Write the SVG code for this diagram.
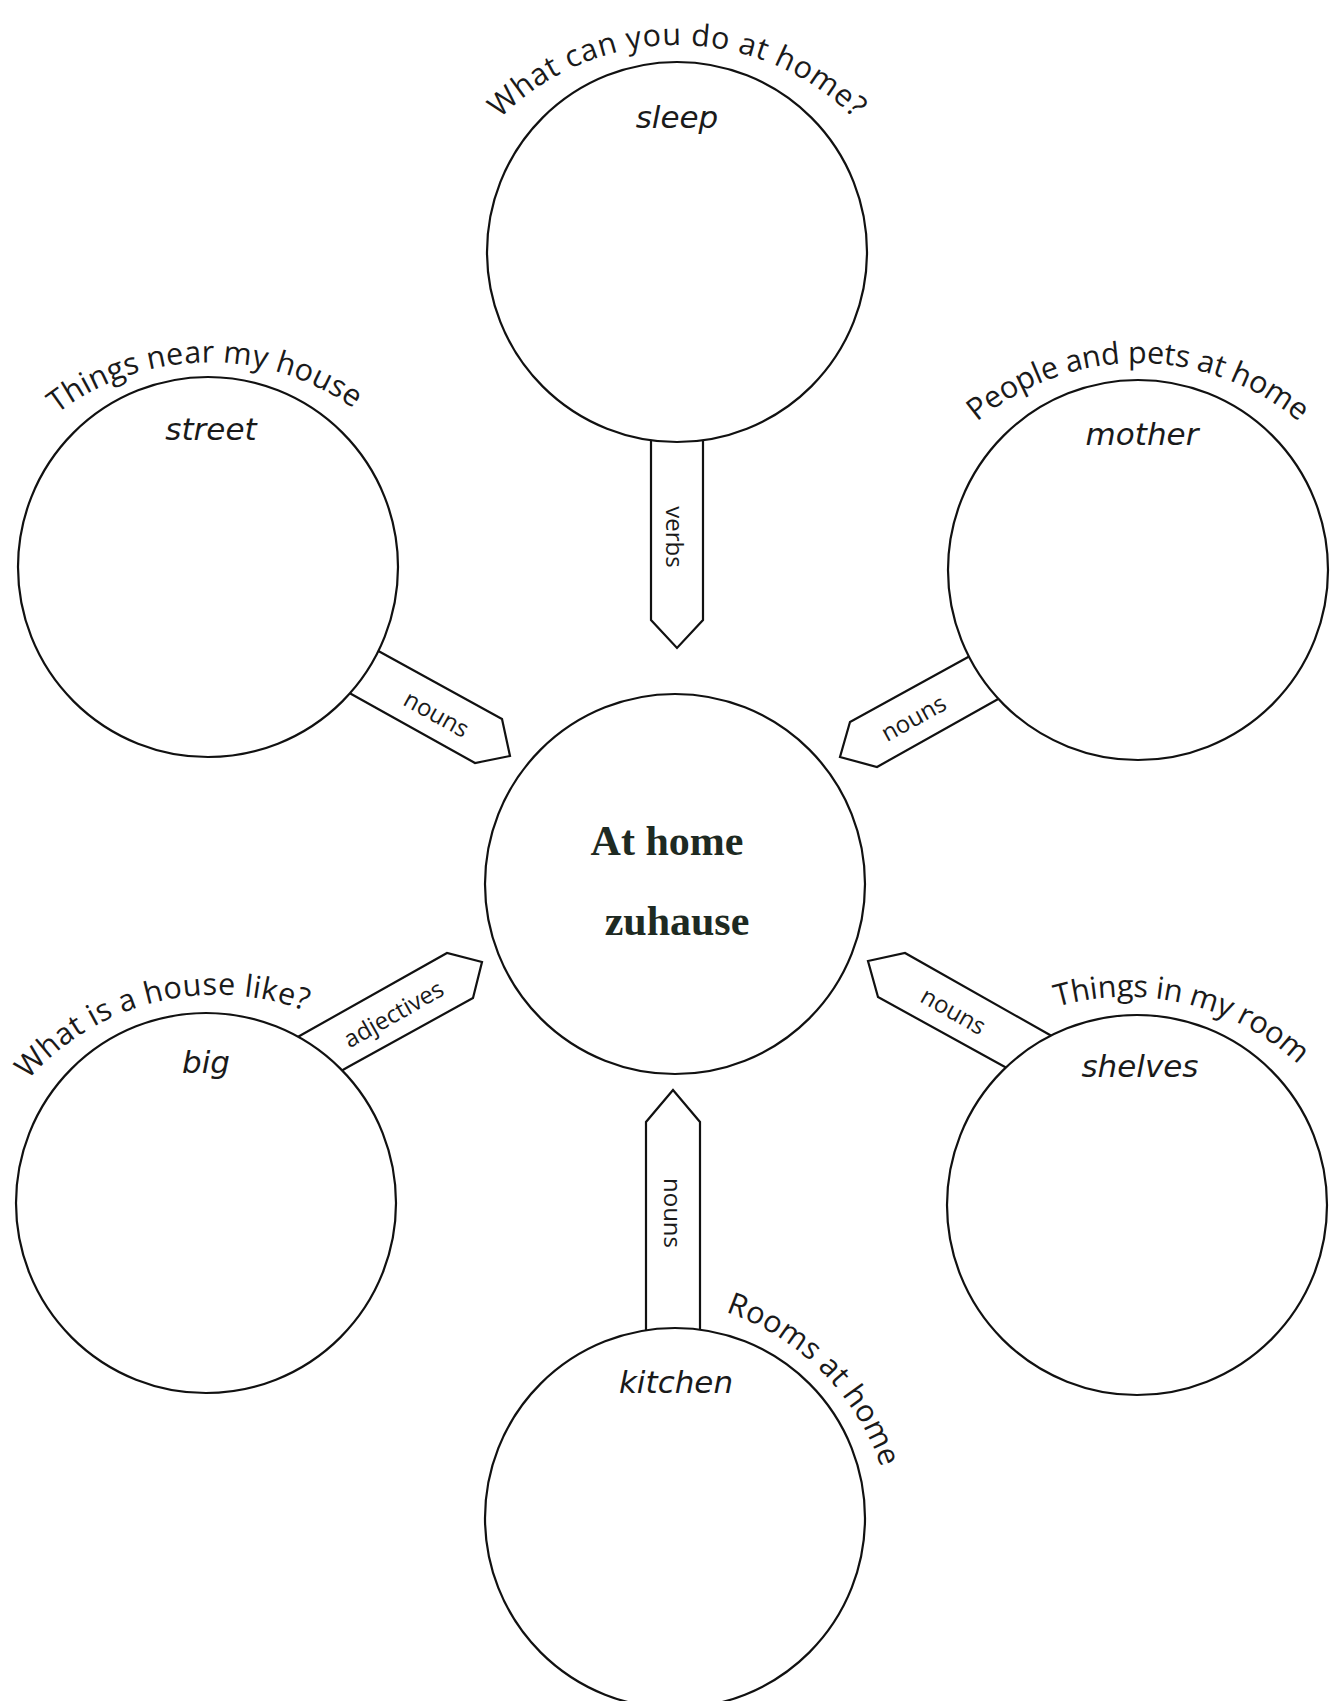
<svg xmlns="http://www.w3.org/2000/svg" xmlns:xlink="http://www.w3.org/1999/xlink" width="1337" height="1701" viewBox="0 0 1337 1701">
<style>
.bub{fill:#fff;stroke:#111;stroke-width:2.2}
.con{fill:#fff;stroke:#111;stroke-width:2.2;stroke-linejoin:miter}
.cl{font-family:"Open Sans","DejaVu Sans",sans-serif;font-size:24px;fill:#1a1a1a;text-anchor:middle;dominant-baseline:central}
.arc{font-family:"Open Sans","DejaVu Sans",sans-serif;font-size:30.5px;fill:#1a1a1a;text-anchor:middle}
.word{font-family:"DejaVu Sans","Liberation Sans",sans-serif;font-style:italic;font-size:31px;fill:#1a1a1a;text-anchor:middle}
.title{font-family:"Liberation Serif","Times New Roman",serif;font-weight:bold;font-size:42px;fill:#1e2a22;text-anchor:middle}
</style>
<defs>
<path id="a1" d="M427,295 A250,250 0 0 1 927,295"/>
<path id="a2" d="M-41.2,614.4 A250,250 0 0 1 458.7,605.6"/>
<path id="a3" d="M888,613 A250,250 0 0 1 1388,613"/>
<path id="a4" d="M-26.2,1305.2 A250,250 0 0 1 459,1184.2"/>
<path id="a5" d="M883.9,1188.4 A250,250 0 0 1 1370.1,1305.2"/>
<path id="a6" d="M467.8,1371.6 A250,250 0 0 1 821.4,1725.2"/>
</defs>
<rect width="1337" height="1701" fill="#fff"/>
<g id="connectors">
<polygon class="con" points="651,420 703,420 703,620 677,648 651,620"/>
<text class="cl" transform="translate(675,537) rotate(90)">verbs</text>
<polygon class="con" points="356,638.5 382,653 502,719 510,756 475,763 353,695 327,680.5"/>
<text class="cl" transform="translate(437,713) rotate(29)">nouns</text>
<polygon class="con" points="996,641.5 970,656 850,722 840,757 877,767 1000,698 1026,683.5"/>
<text class="cl" transform="translate(913,717) rotate(-29)">nouns</text>
<polygon class="con" points="277,1049 303,1034 447,953 482,962 473,998 348,1067 322,1082"/>
<text class="cl" transform="translate(393,1013) rotate(-29.5)">adjectives</text>
<polygon class="con" points="1076,1050 1050,1035 905,953 868,961 878,997 1005,1067 1031,1082"/>
<text class="cl" transform="translate(954,1010) rotate(29.5)">nouns</text>
<polygon class="con" points="646,1350 646,1122 673,1090 700,1122 700,1350"/>
<text class="cl" transform="translate(673,1213) rotate(90)">nouns</text>
</g>
<g id="node-center">
<circle class="bub" cx="675" cy="884" r="190"/>
<text class="title" x="667" y="855">At home</text>
<text class="title" x="677" y="935">zuhause</text>
</g>
<g id="node-verbs">
<circle class="bub" cx="677" cy="252" r="190"/>
<text class="arc"><textPath xlink:href="#a1" href="#a1" startOffset="50%" textLength="394">What can you do at home?</textPath></text>
<text class="word" x="677" y="128">sleep</text>
</g>
<g id="node-near">
<circle class="bub" cx="208" cy="567" r="190"/>
<text class="arc"><textPath xlink:href="#a2" href="#a2" startOffset="50%" textLength="318">Things near my house</textPath></text>
<text class="word" x="211" y="440">street</text>
</g>
<g id="node-people">
<circle class="bub" cx="1138" cy="570" r="190"/>
<text class="arc"><textPath xlink:href="#a3" href="#a3" startOffset="50%" textLength="350">People and pets at home</textPath></text>
<text class="word" x="1142" y="445">mother</text>
</g>
<g id="node-like">
<circle class="bub" cx="206" cy="1203" r="190"/>
<text class="arc"><textPath xlink:href="#a4" href="#a4" startOffset="50%" textLength="304">What is a house like?</textPath></text>
<text class="word" x="206" y="1073">big</text>
</g>
<g id="node-room">
<circle class="bub" cx="1137" cy="1205" r="190"/>
<text class="arc"><textPath xlink:href="#a5" href="#a5" startOffset="50%" textLength="260">Things in my room</textPath></text>
<text class="word" x="1140" y="1077">shelves</text>
</g>
<g id="node-rooms">
<circle class="bub" cx="675" cy="1518" r="190"/>
<text class="arc"><textPath xlink:href="#a6" href="#a6" startOffset="50%" textLength="228">Rooms at home</textPath></text>
<text class="word" x="676" y="1393">kitchen</text>
</g>
</svg>
